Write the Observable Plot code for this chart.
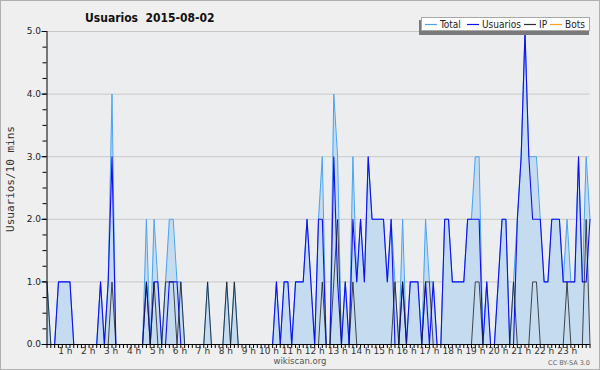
<!DOCTYPE html>
<html><head><meta charset="utf-8">
<script src="https://cdn.jsdelivr.net/npm/d3@7"></script>
<script src="https://cdn.jsdelivr.net/npm/@observablehq/plot@0.6"></script>
<style>
html,body{margin:0;padding:0;background:#efefef;}
#chart{position:relative;width:600px;height:370px;overflow:hidden;}
#border{position:absolute;left:0;top:0;width:598px;height:368px;border:1px solid #b0b0b0;pointer-events:none;}
svg text{white-space:pre;}
</style></head><body><div id="chart"><div id="border"></div></div>
<script>
const title = "Usuarios  2015-08-02";
const yTitle = "Usuarios/10 mins";
const seriesNames = ["Total", "Usuarios", "IP", "Bots"];
const seriesColors = ["#4aa3f2", "#1010f0", "#303030", "#ffa020"];
const hourLabels = ["1 h","2 h","3 h","4 h","5 h","6 h","7 h","8 h","9 h","10 h","11 h","12 h","13 h","14 h","15 h","16 h","17 h","18 h","19 h","20 h","21 h","22 h","23 h"];
const yTicks = [0, 1, 2, 3, 4, 5];
const yTickLabels = ["0.0", "1.0", "2.0", "3.0", "4.0", "5.0"];

// 10-minute slots
const total = [
1,0,0,1,1,1,1,0,0,0, 0,0,0,0,1,0,1,4,0,0,
0,0,0,0,0,0,2,0,2,1, 0,1,2,2,1,1,0,0,0,0,
0,0,1,0,0,0,0,1,0,1, 0,0,0,0,0,0,0,0,0,0,
1,0,1,1,0,1,1,1,2,1, 0,2,3,0,0,4,3,0,1,0,
3,1,2,1,3,2,2,2,2,1, 2,1,0,2,0,1,1,1,0,2,
1,1,0,0,2,2,1,1,1,1, 2,2,3,3,0,1,0,0,1,2,
2,0,1,2,3,5,3,3,3,2, 1,1,2,2,2,1,2,1,1,3,
1,3,2];
const usuarios = [
0,0,0,1,1,1,1,0,0,0, 0,0,0,0,1,0,1,3,0,0,
0,0,0,0,0,0,1,0,1,1, 0,0,1,1,1,0,0,0,0,0,
0,0,0,0,0,0,0,0,0,0, 0,0,0,0,0,0,0,0,0,0,
1,0,1,1,0,1,1,1,2,1, 0,2,2,0,0,3,1,0,1,0,
2,1,2,1,3,2,2,2,2,1, 2,0,0,1,0,1,1,1,0,1,
0,1,0,0,2,2,1,1,1,1, 2,2,2,2,0,1,0,0,1,2,
2,0,0,2,3,5,3,2,2,2, 1,1,2,2,2,1,1,1,1,3,
1,1,2];
const ip = [
1,0,0,0,0,0,0,0,0,0, 0,0,0,0,0,0,0,1,0,0,
0,0,0,0,0,0,1,0,1,0, 0,1,1,1,0,1,0,0,0,0,
0,0,1,0,0,0,0,1,0,1, 0,0,0,0,0,0,0,0,0,0,
0,0,0,0,0,0,0,0,0,0, 0,0,1,0,0,1,2,0,0,0,
1,0,0,0,0,0,0,0,0,0, 0,1,0,1,0,0,0,0,0,1,
1,0,0,0,0,0,0,0,0,0, 0,0,1,1,0,0,0,0,0,0,
0,0,1,0,0,0,0,1,1,0, 0,0,0,0,0,0,1,0,0,0,
0,2,0];

const data = total.map((t, i) => ({slot: i, total: t, usuarios: usuarios[i], ip: ip[i]}));
const slots = d3.range(total.length);
const hourSlots = hourLabels.map((_, k) => (k + 1) * 6);

const chart = Plot.plot({
  width: 600, height: 370,
  marginLeft: 46.5, marginRight: 10.5, marginTop: 31, marginBottom: 26,
  style: {background: "transparent", fontFamily: "DejaVu Sans", fontSize: "9px", color: "#333"},
  x: {domain: [0, total.length - 1], axis: null},
  y: {domain: [0, 5], axis: null},
  marks: [
    Plot.frame({fill: "#ecedef", stroke: null}),
    Plot.ruleY(yTicks.slice(1), {stroke: "#c8c8c8", strokeWidth: 1}),
    Plot.areaY(data, {x: "slot", y: "total", fill: "#c5dcf0"}),
    Plot.lineY(data, {x: "slot", y: "total", stroke: seriesColors[0], strokeWidth: 1}),
    Plot.lineY(data, {x: "slot", y: "usuarios", stroke: seriesColors[1], strokeWidth: 1.1}),
    Plot.lineY(data, {x: "slot", y: "ip", stroke: "#1a1a1a", strokeOpacity: 0.78, strokeWidth: 1}),
    Plot.axisY({ticks: d3.range(0, 5.001, 0.25), tickSize: 4, tickFormat: () => "", stroke: "#000", label: null}),
    Plot.axisY({ticks: yTicks, tickSize: 5, tickPadding: 1, tickFormat: (d) => yTickLabels[yTicks.indexOf(d)], fill: "#222", stroke: "#000", label: null}),
    Plot.axisX({ticks: slots, tickSize: 4, tickFormat: () => "", stroke: "#000", label: null}),
    Plot.axisX({ticks: hourSlots, tickSize: 0, tickPadding: 3, tickFormat: (d) => hourLabels[d / 6 - 1], textAnchor: "end", dx: 2.5, fill: "#333", label: null}),
    Plot.ruleX([0], {stroke: "#000", strokeWidth: 1}),
    Plot.ruleY([0], {stroke: "#000", strokeWidth: 1})
  ]
});
document.getElementById("chart").prepend(chart);

const svg = d3.select(chart);
svg.append("text").attr("x", 85).attr("y", 22).attr("text-anchor", "start")
  .attr("font-family", "DejaVu Sans Condensed").attr("font-weight", "bold").attr("font-size", 12)
  .attr("fill", "#111").text(title);

svg.append("text")
  .attr("transform", "translate(14,179) rotate(-90)")
  .attr("text-anchor", "middle")
  .attr("font-family", "DejaVu Sans Mono").attr("font-size", 11).attr("fill", "#333")
  .text(yTitle);

// legend
const lg = svg.append("g").attr("text-anchor", "start");
lg.append("rect").attr("x", 419).attr("y", 20).attr("width", 170).attr("height", 15).attr("fill", "#7a7a7a");
lg.append("rect").attr("x", 421.5).attr("y", 17.5).attr("width", 168).attr("height", 13).attr("fill", "#fff").attr("stroke", "#a8a8a8");
const lx = [425, 467, 524, 550];
seriesNames.forEach((name, k) => {
  lg.append("line").attr("x1", lx[k]).attr("x2", lx[k] + 12).attr("y1", 24.5).attr("y2", 24.5)
    .attr("stroke", seriesColors[k]).attr("stroke-width", 1.2);
  lg.append("text").attr("x", lx[k] + 15).attr("y", 28)
    .attr("font-family", "DejaVu Sans Condensed").attr("font-size", 10).attr("fill", "#222").text(name);
});

svg.append("text").attr("x", 300).attr("y", 364).attr("text-anchor", "middle")
  .attr("font-family", "DejaVu Sans").attr("font-size", 8.5).attr("fill", "#555").text("wikiscan.org");
svg.append("text").attr("x", 590).attr("y", 365).attr("text-anchor", "end")
  .attr("font-family", "DejaVu Sans").attr("font-size", 6.5).attr("fill", "#666").text("CC BY-SA 3.0");
</script>
</body></html>
